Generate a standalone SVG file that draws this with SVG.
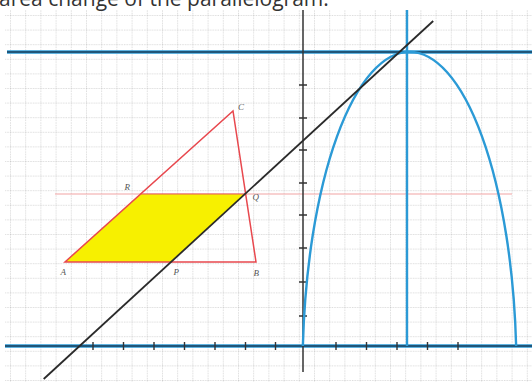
<svg xmlns="http://www.w3.org/2000/svg" width="532" height="382" viewBox="0 0 532 382">
<style>
.title{font-family:"Open Sans","Liberation Sans",sans-serif;font-size:21px;fill:#333}
.lbl{font-family:"Liberation Serif",serif;font-style:italic;font-size:9px;fill:#555}
.tick{stroke:#333;stroke-width:1.4}
.blue{stroke:#2b9ad6;fill:none}
.axisln{stroke:#1e3f5a;stroke-width:1.6}
</style>
<defs>
<pattern id="grid" patternUnits="userSpaceOnUse" x="10" y="15" width="15.2" height="14.6">
<line x1="0" y1="0" x2="0" y2="14.6" stroke="#bcbcbc" stroke-width="1" stroke-dasharray="1.5 1"/>
<line x1="0" y1="0" x2="15.2" y2="0" stroke="#bcbcbc" stroke-width="1" stroke-dasharray="1.5 1"/>
</pattern>
</defs>
<rect width="532" height="382" fill="#ffffff"/>
<rect x="5" y="10" width="527" height="372" fill="url(#grid)"/>
<text class="title" x="-1" y="6">area change of the parallelogram.</text>

<g id="guide-line">
<line x1="55" y1="194" x2="512" y2="194" stroke="#f2a3a3" stroke-width="1.2"/>
</g>

<g id="parallelogram">
<polygon points="65,262 171,262 245,194 140.6,194" fill="#f7f000"/>
<line x1="140.6" y1="194" x2="245" y2="194" stroke="#e65a5a" stroke-width="1.2"/>
</g>

<g id="triangle">
<polygon points="65,262 256,262 233,111" fill="none" stroke="#e8484e" stroke-width="1.5"/>
</g>

<g id="axes">
<line x1="5" y1="346" x2="532" y2="346" stroke="#2b9ad6" stroke-width="3.4"/>
<line x1="5" y1="346" x2="532" y2="346" class="axisln"/>
<line x1="7" y1="52" x2="532" y2="52" stroke="#2b9ad6" stroke-width="3.4"/>
<line x1="7" y1="52" x2="532" y2="52" class="axisln"/>
<line x1="303" y1="10" x2="303" y2="372" stroke="#333" stroke-width="1.5"/>
</g>

<g id="ticks">
<path class="tick" d="M93,342V350M123.5,342V350M154,342V350M184.5,342V350M215,342V350M245.5,342V350M275.5,342V350M336,342V350M366.5,342V350M397,342V350M427.5,342V350M458,342V350"/>
<path class="tick" d="M299,85H307M299,118H307M299,150H307M299,183H307M299,215H307M299,248H307M299,282H307M299,316H307"/>
</g>

<g id="symmetry-line">
<line x1="407" y1="10" x2="407" y2="346" class="blue" stroke-width="2.4"/>
</g>

<g id="curve">
<path class="blue" stroke-width="2.4" d="M302.85,346 A107,320 0 0 1 516.15,346"/>
</g>

<g id="line-PQ">
<line x1="43.7" y1="379" x2="433.2" y2="21" stroke="#2a2a2a" stroke-width="1.8"/>
</g>

<g id="labels">
<text class="lbl" x="238" y="110">C</text>
<text class="lbl" x="124.5" y="190">R</text>
<text class="lbl" x="252.5" y="200">Q</text>
<text class="lbl" x="60.5" y="275">A</text>
<text class="lbl" x="173.5" y="275">P</text>
<text class="lbl" x="253.5" y="276">B</text>
</g>
</svg>
